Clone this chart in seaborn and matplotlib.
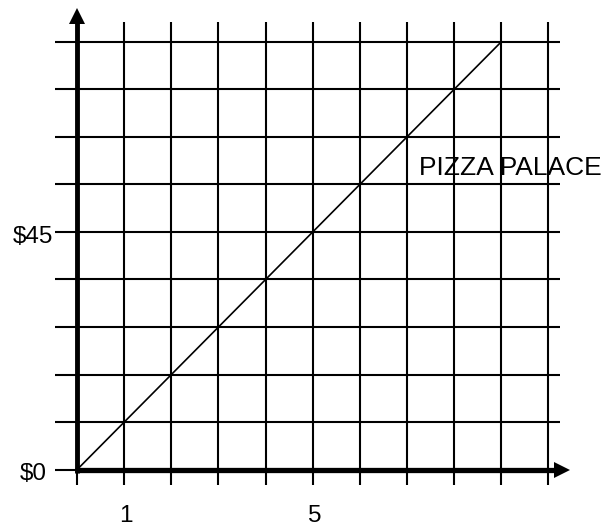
import matplotlib
matplotlib.use("Agg")
import matplotlib.pyplot as plt
import seaborn as sns

# one grid square = 1 hour across, $9 up
hours = [0, 1, 2, 3, 4, 5, 6, 7, 8, 9]
cost = [0, 9, 18, 27, 36, 45, 54, 63, 72, 81]
x_grid = [1, 2, 3, 4, 5, 6, 7, 8, 9, 10]
y_grid = [9, 18, 27, 36, 45, 54, 63, 72, 81]
x_ticks = [1, 5]
x_labels = ["1", "5"]
y_ticks = [0, 45]
y_labels = ["$0", "$45"]
line_name = "PIZZA PALACE"

sns.set_style("white")
plt.rcParams["font.family"] = ["Liberation Sans", "DejaVu Sans"]
plt.rcParams["text.color"] = "black"

fig = plt.figure(figsize=(6.07, 5.27), dpi=100)
ax = fig.add_axes([0, 0, 1, 1])
ax.axis("off")
ax.set_xlim(-1.633, 11.241)
ax.set_ylim(-10.845, 88.90)

# grid
ax.vlines(x_grid, -2.9, 84.7, color="black", lw=1.5)
ax.vlines([0], -2.9, 0, color="black", lw=1.5)
ax.hlines(y_grid + [0], -0.467, 10.244, color="black", lw=1.5)

# axes with arrows
ax.plot([0, 0], [-0.6, 85.0], color="black", lw=3.5, solid_capstyle="butt")
ax.plot([0], [85.8], marker="^", ms=11.2, mew=0, color="black", clip_on=False)
ax.plot([-0.05, 10.15], [0, 0], color="black", lw=3.8, solid_capstyle="butt")
ax.plot([10.29], [0], marker=">", ms=11.2, mew=0, color="black", clip_on=False)

# cost line
sns.lineplot(x=hours, y=cost, color="black", lw=1.2, ax=ax)
ax.text(7.25, 55.78, line_name, fontsize=19, ha="left", va="baseline")

# tick labels
for t, lab in zip(x_ticks, x_labels):
    ax.text(t + 0.04, -9.95, lab, fontsize=17.5, ha="center", va="baseline")
for t, lab in zip(y_ticks, y_labels):
    ax.text(-0.933, t - 2.0, lab, fontsize=17.5, ha="center", va="baseline")

fig.savefig("out.png", dpi=100)
